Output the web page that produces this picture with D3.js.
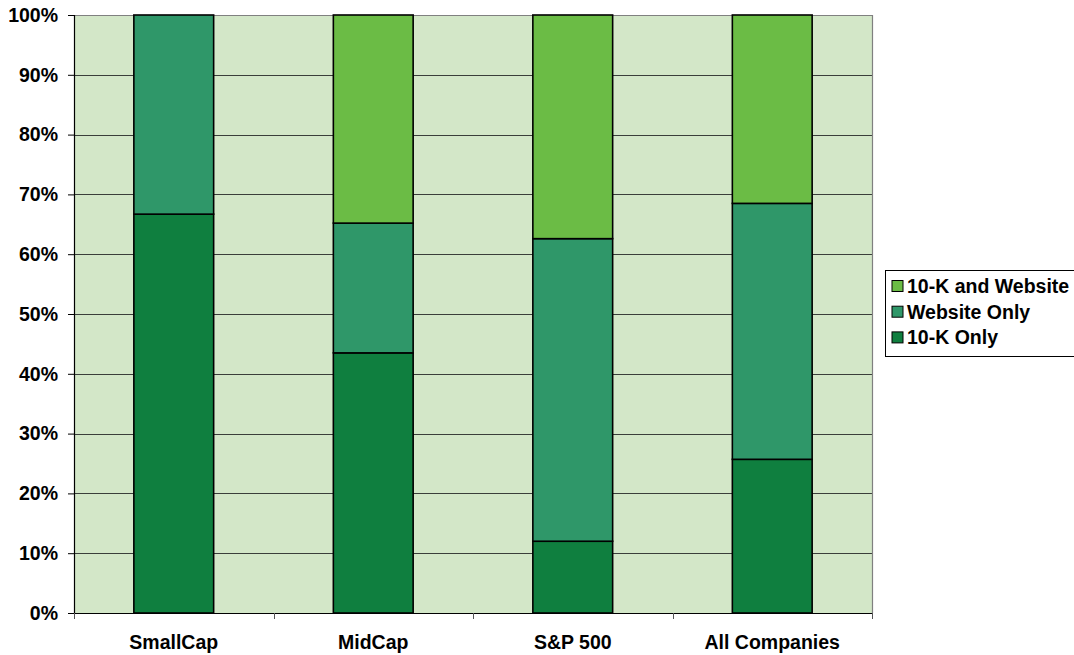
<!DOCTYPE html>
<html>
<head>
<meta charset="utf-8">
<script src="https://cdn.jsdelivr.net/npm/d3@7"></script>
<style>
  html, body { margin: 0; padding: 0; background: #ffffff; }
  svg { display: block; }
  text { font-family: "Liberation Sans", Arial, sans-serif; font-weight: bold; fill: #000; }
</style>
</head>
<body>
<svg id="chart" width="1074" height="655"></svg>
<script>
// Categories and stacked shares (percent of companies)
const categories = ["SmallCap", "MidCap", "S&P 500", "All Companies"];
const tenKOnly = [66.7, 43.5, 12.0, 25.7];
const websiteOnly = [33.3, 21.7, 50.6, 42.8];
const tenKAndWebsite = [0.0, 34.8, 37.4, 31.5];
const seriesNames = ["10-K Only", "Website Only", "10-K and Website"];
const seriesColors = ["#0f7f3f", "#2f9769", "#6bbc45"];
const yTicks = [0, 10, 20, 30, 40, 50, 60, 70, 80, 90, 100];

const svg = d3.select("#chart");
const plot = { left: 74, top: 15, right: 872, bottom: 613 };
const fontSize = "19.5px";

const rows = categories.map((c, i) => ({
  category: c,
  "10-K Only": tenKOnly[i],
  "Website Only": websiteOnly[i],
  "10-K and Website": tenKAndWebsite[i]
}));
const stacked = d3.stack().keys(seriesNames)(rows);

const x = d3.scaleBand().domain(categories).range([plot.left, plot.right]).padding(0);
const y = d3.scaleLinear().domain([0, 100]).range([plot.bottom, plot.top]);
const barW = x.bandwidth() * 0.4;

// Plot background
svg.append("rect")
  .attr("x", plot.left).attr("y", plot.top)
  .attr("width", plot.right - plot.left).attr("height", plot.bottom - plot.top)
  .attr("fill", "#d3e7c8");

// Horizontal gridlines
svg.append("g").selectAll("line")
  .data(yTicks.filter(t => t > 0 && t < 100))
  .join("line")
  .attr("x1", plot.left).attr("x2", plot.right)
  .attr("y1", d => Math.round(y(d)) + 0.5).attr("y2", d => Math.round(y(d)) + 0.5)
  .attr("stroke", "#3a3f3a").attr("stroke-width", 1);

// Top and right frame
svg.append("path")
  .attr("d", `M${plot.left},${plot.top + 0.5}H${plot.right + 0.5}V${plot.bottom}`)
  .attr("fill", "none").attr("stroke", "#808080").attr("stroke-width", 1.2);

// Stacked bars
const layers = svg.append("g").selectAll("g")
  .data(stacked)
  .join("g")
  .attr("fill", (d, i) => seriesColors[i]);

layers.selectAll("rect")
  .data(d => d.filter(s => s[1] - s[0] > 0))
  .join("rect")
  .attr("x", d => x(d.data.category) + (x.bandwidth() - barW) / 2)
  .attr("y", d => y(d[1]))
  .attr("width", barW)
  .attr("height", d => y(d[0]) - y(d[1]))
  .attr("stroke", "#000")
  .attr("stroke-width", 1.6);

// Y axis
const yAxis = svg.append("g")
  .attr("transform", `translate(${plot.left},0)`)
  .call(d3.axisLeft(y).tickValues(yTicks).tickFormat(d => d + "%").tickSize(6).tickPadding(10));
yAxis.select(".domain").attr("stroke", "#000").attr("stroke-width", 1.2);
yAxis.selectAll(".tick line").attr("stroke", "#000");
yAxis.selectAll(".tick text")
  .attr("font-size", fontSize)
  .attr("font-family", "Liberation Sans, Arial, sans-serif")
  .attr("font-weight", "bold")
  .attr("fill", "#000");

// X axis with ticks at category boundaries
const xAxisG = svg.append("g").attr("transform", `translate(0,${plot.bottom})`);
xAxisG.append("line")
  .attr("x1", plot.left).attr("x2", plot.right + 0.5)
  .attr("y1", 0.5).attr("y2", 0.5)
  .attr("stroke", "#000").attr("stroke-width", 1.2);
const boundaries = categories.map(c => x(c)).concat([plot.right]);
xAxisG.selectAll("line.tick")
  .data(boundaries)
  .join("line")
  .attr("class", "tick")
  .attr("x1", d => Math.round(d) + 0.5).attr("x2", d => Math.round(d) + 0.5)
  .attr("y1", 0).attr("y2", 6)
  .attr("stroke", "#555").attr("stroke-width", 1);
xAxisG.selectAll("text")
  .data(categories)
  .join("text")
  .attr("x", d => x(d) + x.bandwidth() / 2)
  .attr("y", 36)
  .attr("text-anchor", "middle")
  .attr("font-size", fontSize)
  .text(d => d);

// Legend (top series first)
const legend = svg.append("g").attr("transform", "translate(885,270)");
legend.append("rect")
  .attr("x", 0.5).attr("y", 0.5)
  .attr("width", 200).attr("height", 86)
  .attr("fill", "#fff").attr("stroke", "#000").attr("stroke-width", 1);
const legendOrder = [2, 1, 0];
const items = legend.selectAll("g.item")
  .data(legendOrder)
  .join("g")
  .attr("class", "item")
  .attr("transform", (d, i) => `translate(7,${16 + i * 25.7})`);
items.append("rect")
  .attr("x", 0).attr("y", -5.5)
  .attr("width", 11).attr("height", 11)
  .attr("fill", d => seriesColors[d])
  .attr("stroke", "#000").attr("stroke-width", 1);
items.append("text")
  .attr("x", 15).attr("y", 0)
  .attr("dy", "0.35em")
  .attr("font-size", fontSize)
  .text(d => seriesNames[d]);
</script>
</body>
</html>
